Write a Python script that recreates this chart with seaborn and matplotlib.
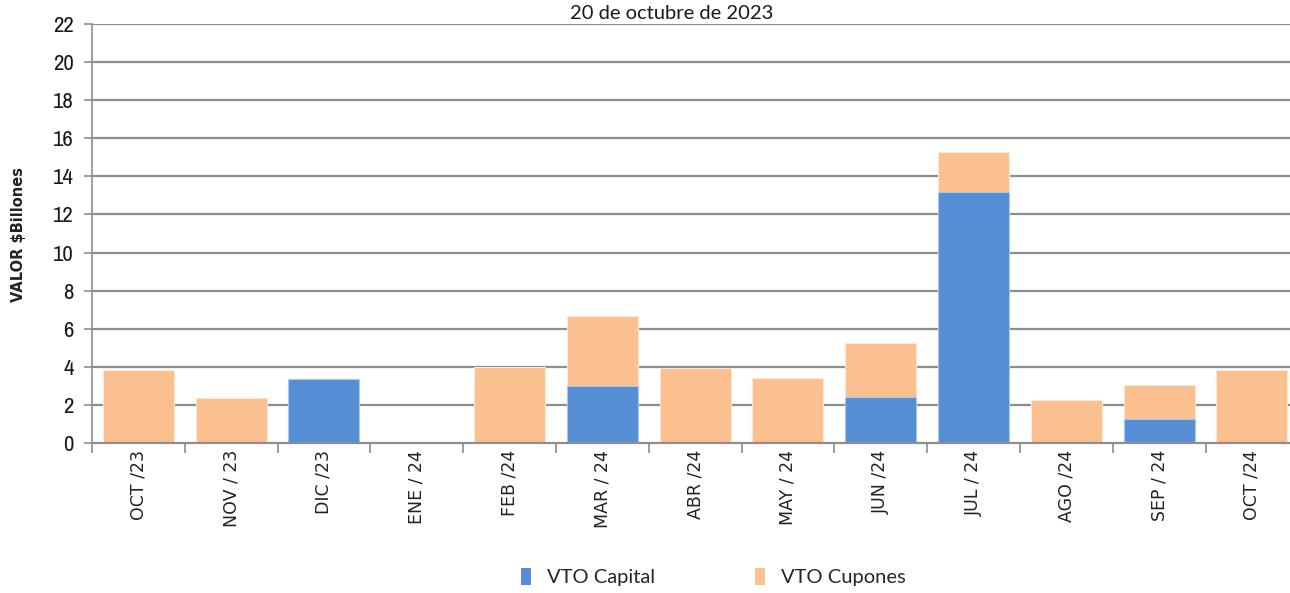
import matplotlib
matplotlib.use("Agg")
import matplotlib.pyplot as plt
from matplotlib.patches import Patch
from matplotlib.ticker import FixedLocator, NullFormatter
import seaborn as sns
import pandas as pd

# Monthly maturities (billions of pesos)
meses = ["OCT /23", "NOV / 23", "DIC /23", "ENE / 24", "FEB /24", "MAR / 24",
         "ABR /24", "MAY / 24", "JUN /24", "JUL / 24", "AGO /24", "SEP / 24", "OCT /24"]
vto_capital = [0.0, 0.0, 3.36, 0.0, 0.0, 2.98, 0.0, 0.0, 2.41, 13.19, 0.0, 1.28, 0.0]
vto_cupones = [3.83, 2.36, 0.0, 0.0, 4.00, 3.69, 3.94, 3.41, 2.86, 2.07, 2.24, 1.75, 3.82]
y_ticks = list(range(0, 23, 2))

df = pd.DataFrame({"mes": meses, "capital": vto_capital, "cupones": vto_cupones})
df["total"] = df["capital"] + df["cupones"]

COL_CAP = "#558ED5"
COL_CUP = "#FAC090"
GRID = "#8E8E8E"

sns.set_theme(style="white")
plt.rcParams["font.family"] = ["Liberation Sans Narrow", "Archivo Narrow", "DejaVu Sans"]

fig = plt.figure(figsize=(12.9, 5.93), dpi=100)
ax = fig.add_axes([0.0713, 0.2530, 0.9352, 0.7065])

# stacked bars: total (cupones on top) drawn first, capital over it
sns.barplot(data=df, x="mes", y="total", color=COL_CUP, saturation=1, width=0.765,
            edgecolor="#FFE8D6", linewidth=0.8, ax=ax, zorder=3)
sns.barplot(data=df, x="mes", y="capital", color=COL_CAP, saturation=1, width=0.765,
            edgecolor="#A9C6EC", linewidth=0.8, ax=ax, zorder=4)

ax.set_xlim(-0.5, len(meses) - 0.5)
ax.set_ylim(0, 22)
ax.set_yticks(y_ticks)
ax.set_yticklabels([str(v) for v in y_ticks], fontsize=16.5, color="#1a1a1a")

# horizontal gridlines
for v in y_ticks[1:]:
    ax.axhline(v, color=GRID, linewidth=1.6, zorder=1)

for s in ["top", "right"]:
    ax.spines[s].set_visible(False)
ax.spines["left"].set_color(GRID)
ax.spines["left"].set_linewidth(1.2)
ax.spines["bottom"].set_color(GRID)
ax.spines["bottom"].set_linewidth(1.6)
ax.spines["bottom"].set_zorder(5)

# category labels at centers, tick marks at boundaries
ax.set_xticks(range(len(meses)))
ax.set_xticklabels(meses, rotation=90, fontsize=12.5, color="#222222",
                   family=["DejaVu Sans"])
ax.xaxis.set_minor_locator(FixedLocator([i - 0.5 for i in range(len(meses) + 1)]))
ax.xaxis.set_minor_formatter(NullFormatter())
ax.tick_params(axis="x", which="major", length=0, pad=5)
ax.tick_params(axis="x", which="minor", length=7, width=1.2, color=GRID, direction="out", bottom=True)
ax.tick_params(axis="y", which="major", length=6, width=1.2, color=GRID, direction="out", left=True, pad=7)

ax.set_xlabel("")
ax.set_ylabel("")
fig.text(0.014, 0.604, "VALOR $Billones", rotation=90, ha="center", va="center",
         fontsize=10.5, fontweight="bold", color="#222222", family=["DejaVu Sans"])

fig.text(0.521, 0.978, "20 de octubre de 2023", ha="center", va="center",
         fontsize=14.5, color="#1a1a1a", family=["Lato", "DejaVu Sans"])

handles = [Patch(facecolor=COL_CAP, edgecolor="none", label="VTO Capital"),
           Patch(facecolor=COL_CUP, edgecolor="none", label="VTO Cupones")]
fig.legend(handles=handles, loc="center", bbox_to_anchor=(0.553, 0.027), ncol=2,
           frameon=False, handlelength=0.5, handleheight=0.9,
           columnspacing=5.0, handletextpad=0.75,
           prop={"family": ["Lato", "DejaVu Sans"], "size": 14.5})

fig.savefig("out.png", dpi=100)
